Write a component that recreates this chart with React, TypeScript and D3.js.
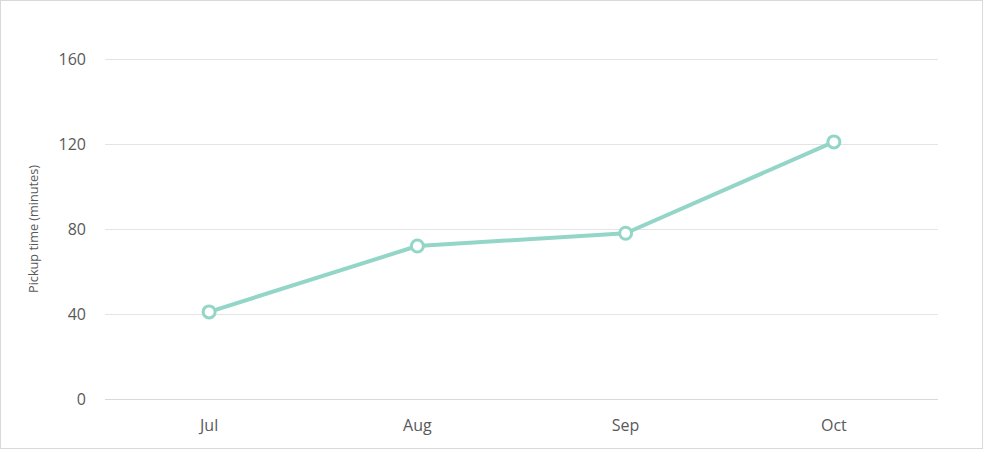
import React from "react";
import * as d3 from "d3";

const categories = ["Jul", "Aug", "Sep", "Oct"];
const pickupMinutes = [41, 72, 78, 121];
const yTicks = [0, 40, 80, 120, 160];
const yTitle = "Pickup time (minutes)";

const W = 983;
const H = 449;
const M = { left: 105, right: 45, top: 59, bottom: 50 };
const COLOR = "#93D6C7";
const TEXT = "#595959";
const FONT = "'Open Sans', Lato, sans-serif";

export default function App() {
  const x = d3
    .scaleBand<string>()
    .domain(categories)
    .range([M.left, W - M.right]);
  const y = d3
    .scaleLinear()
    .domain([0, 160])
    .range([H - M.bottom, M.top]);
  const line = d3
    .line<number>()
    .x((_, i) => (x(categories[i]) as number) + x.bandwidth() / 2)
    .y((d) => y(d));

  return (
    <svg
      width={W}
      height={H}
      style={{ position: "absolute", left: 0, top: 0, background: "#fff" }}
      fontFamily={FONT}
    >
      <rect x={0.5} y={0.5} width={W - 1} height={H - 1} fill="#fff" stroke="#d9d9d9" />
      {yTicks.map((t) => (
        <g key={t}>
          <line
            x1={M.left}
            x2={W - M.right}
            y1={Math.round(y(t)) + 0.5}
            y2={Math.round(y(t)) + 0.5}
            stroke={t === 0 ? "#d9d9d9" : "#e4e4e4"}
            strokeWidth={1}
          />
          <text
            x={86}
            y={y(t)}
            dy="0.35em"
            textAnchor="end"
            fontSize={16}
            fill={TEXT}
          >
            {t}
          </text>
        </g>
      ))}
      {categories.map((c) => (
        <text
          key={c}
          x={(x(c) as number) + x.bandwidth() / 2}
          y={431}
          textAnchor="middle"
          fontSize={16}
          fill={TEXT}
        >
          {c}
        </text>
      ))}
      <text
        transform={`translate(38, ${(y(0) + y(160)) / 2}) rotate(-90)`}
        textAnchor="middle"
        fontSize={12.7}
        fill={TEXT}
      >
        {yTitle}
      </text>
      <path d={line(pickupMinutes) || ""} fill="none" stroke={COLOR} strokeWidth={4} strokeLinejoin="round" />
      {pickupMinutes.map((v, i) => (
        <circle
          key={i}
          cx={(x(categories[i]) as number) + x.bandwidth() / 2}
          cy={y(v)}
          r={6}
          fill="#fff"
          stroke={COLOR}
          strokeWidth={3}
        />
      ))}
    </svg>
  );
}
